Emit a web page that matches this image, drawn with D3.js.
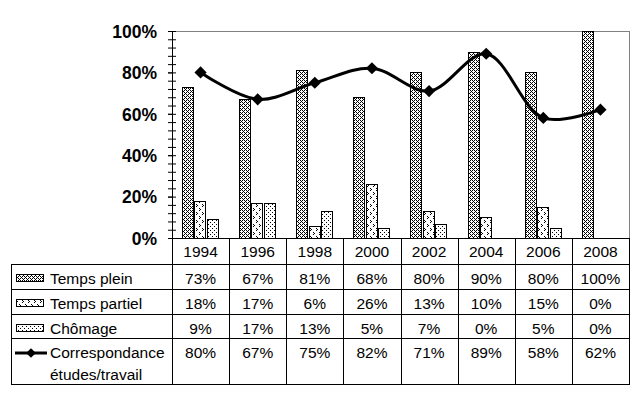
<!DOCTYPE html>
<html>
  <head>
    <script src="https://d3js.org/d3.v7.min.js"></script>
    <style>
      body { margin: 0; background: #fff; }
      text { font-family: Arial, "Liberation Sans", sans-serif; }
    </style>
  </head>
  <body>
    <div id="chart"></div>
  <script>
    var width = 639,
        height = 399;

    // data
    var years = ["1994", "1996", "1998", "2000", "2002", "2004", "2006", "2008"];
    var tempsPlein = [73, 67, 81, 68, 80, 90, 80, 100];
    var tempsPartiel = [18, 17, 6, 26, 13, 10, 15, 0];
    var chomage = [9, 17, 13, 5, 7, 0, 5, 0];
    var correspondance = [80, 67, 75, 82, 71, 89, 58, 62];
    var yTicks = [0, 20, 40, 60, 80, 100];

    var barSeries = [
      {name: "Temps plein", values: tempsPlein, fill: "url(#pPlein)"},
      {name: "Temps partiel", values: tempsPartiel, fill: "url(#pPartiel)"},
      {name: "Chômage", values: chomage, fill: "url(#pChomage)"}
    ];

    var plotLeft = 172, plotRight = 629, plotTop = 31, plotBottom = 238;
    var rowLines = [264, 289, 314, 338, 384];

    var svg = d3.select("#chart").append("svg")
        .attr("width", width)
        .attr("height", height);

    // patterns
    var defs = svg.append("defs");
    function pattern(id, w, h, pts) {
      var p = defs.append("pattern")
          .attr("id", id)
          .attr("patternUnits", "userSpaceOnUse")
          .attr("width", w).attr("height", h);
      p.append("rect").attr("width", w).attr("height", h).attr("fill", "#fff");
      pts.forEach(function(d) {
        p.append("rect").attr("x", d[0]).attr("y", d[1])
          .attr("width", 1).attr("height", 1).attr("fill", "#000");
      });
    }
    pattern("pPlein", 4, 4, [[0, 0], [2, 0], [0, 2], [2, 2], [1, 1], [3, 3]]);
    pattern("pPartiel", 6, 8, [[1, 0], [2, 1], [1, 2], [4, 4], [5, 5], [4, 6]]);
    pattern("pChomage", 4, 4, [[0, 0], [2, 2]]);

    var x = d3.scaleBand()
        .domain(years)
        .range([plotLeft, plotRight])
        .padding(0);

    var bw = x.bandwidth();
    var xs = d3.scaleBand()
        .domain(barSeries.map(function(s) { return s.name; }))
        .range([bw * 0.175, bw * 0.825])
        .padding(0);

    var y = d3.scaleLinear()
        .domain([0, 100])
        .range([plotBottom, plotTop]);

    // plot border (gray)
    svg.append("line")
        .attr("x1", plotLeft).attr("x2", plotRight)
        .attr("y1", y(100) + 0.5).attr("y2", y(100) + 0.5)
        .attr("stroke", "#808080");
    svg.append("line")
        .attr("x1", plotRight + 0.5).attr("x2", plotRight + 0.5)
        .attr("y1", y(100)).attr("y2", plotBottom)
        .attr("stroke", "#808080");

    // bars
    barSeries.forEach(function(s) {
      svg.append("g")
        .selectAll("rect")
        .data(s.values)
        .enter()
        .append("rect")
          .attr("x", function(d, i) { return Math.round(x(years[i]) + xs(s.name)) + 0.5; })
          .attr("y", function(d) { return Math.round(y(d)) + 0.5; })
          .attr("width", Math.round(xs.bandwidth()) - 1)
          .attr("height", function(d) { return Math.round(plotBottom - y(d)); })
          .attr("fill", s.fill)
          .attr("stroke", "#000")
          .attr("stroke-width", 1)
          .style("display", function(d) { return d > 0 ? null : "none"; });
    });

    // y axis, minor ticks crossing the axis
    var minor = d3.range(0, 101, 4);
    svg.append("g")
        .attr("transform", "translate(" + plotLeft + ",0)")
        .call(d3.axisLeft(y).tickValues(minor).tickSize(4).tickFormat(""))
        .call(function(g) { g.select(".domain").remove(); });
    svg.append("g")
        .attr("transform", "translate(" + plotLeft + ",0)")
        .call(d3.axisRight(y).tickValues(minor).tickSize(4).tickFormat(""))
        .call(function(g) { g.select(".domain").remove(); });
    var yAxis = svg.append("g")
        .attr("transform", "translate(" + plotLeft + ",0)")
        .call(d3.axisLeft(y).tickValues(yTicks).tickSize(4).tickPadding(11)
          .tickFormat(function(d) { return d + "%"; }));
    yAxis.select(".domain").attr("d", "M0.5," + plotTop + "V" + plotBottom);
    yAxis.selectAll("text")
        .style("font-family", "Arial, 'Liberation Sans', sans-serif")
        .style("font-size", "17.5px")
        .style("font-weight", "bold")
        .attr("dy", "0.36em");

    // x axis line
    svg.append("line")
        .attr("x1", plotLeft).attr("x2", plotRight)
        .attr("y1", plotBottom + 0.5).attr("y2", plotBottom + 0.5)
        .attr("stroke", "#000");

    // correspondance line
    var line = d3.line()
        .x(function(d, i) { return x(years[i]) + bw / 2; })
        .y(function(d) { return y(d); })
        .curve(d3.curveCatmullRom.alpha(0.5));

    svg.append("path")
        .datum(correspondance)
        .attr("d", line)
        .attr("fill", "none")
        .attr("stroke", "#000")
        .attr("stroke-width", 3);

    var diamond = d3.symbol().type(d3.symbolDiamond2).size(95);
    svg.append("g")
        .selectAll("path")
        .data(correspondance)
        .enter()
        .append("path")
          .attr("d", diamond)
          .attr("transform", function(d, i) {
            return "translate(" + (x(years[i]) + bw / 2) + "," + y(d) + ")";
          })
          .attr("fill", "#000");

    // data table
    var table = svg.append("g");
    // vertical lines
    table.selectAll("line.v")
        .data(years.concat(["end"]))
        .enter()
        .append("line")
          .attr("x1", function(d, i) { return i < years.length ? Math.round(x(d)) + 0.5 : plotRight + 0.5; })
          .attr("x2", function(d, i) { return i < years.length ? Math.round(x(d)) + 0.5 : plotRight + 0.5; })
          .attr("y1", plotBottom)
          .attr("y2", rowLines[rowLines.length - 1] + 0.5)
          .attr("stroke", "#000");
    table.append("line")
        .attr("x1", 11.5).attr("x2", 11.5)
        .attr("y1", rowLines[0]).attr("y2", rowLines[rowLines.length - 1] + 0.5)
        .attr("stroke", "#000");
    table.selectAll("line.h")
        .data(rowLines)
        .enter()
        .append("line")
          .attr("x1", 11).attr("x2", plotRight + 1)
          .attr("y1", function(d) { return d + 0.5; })
          .attr("y2", function(d) { return d + 0.5; })
          .attr("stroke", "#000");

    var fs = "15.5px";
    // header years
    table.selectAll("text.year")
        .data(years)
        .enter()
        .append("text")
          .attr("x", function(d) { return x(d) + bw / 2; })
          .attr("y", 257)
          .attr("text-anchor", "middle")
          .style("font-size", fs)
          .text(function(d) { return d; });

    var rows = [
      {label: ["Temps plein"], values: tempsPlein, key: "pPlein", base: 284},
      {label: ["Temps partiel"], values: tempsPartiel, key: "pPartiel", base: 309},
      {label: ["Chômage"], values: chomage, key: "pChomage", base: 334},
      {label: ["Correspondance", "études/travail"], values: correspondance, key: "line", base: 358}
    ];

    rows.forEach(function(r) {
      table.selectAll(null)
        .data(r.values)
        .enter()
        .append("text")
          .attr("x", function(d, i) { return x(years[i]) + bw / 2; })
          .attr("y", r.base)
          .attr("text-anchor", "middle")
          .style("font-size", fs)
          .text(function(d) { return d + "%"; });

      r.label.forEach(function(t, k) {
        table.append("text")
          .attr("x", 50)
          .attr("y", r.base + k * 22)
          .style("font-size", fs)
          .text(t);
      });

      if (r.key === "line") {
        table.append("line")
          .attr("x1", 15).attr("x2", 47)
          .attr("y1", r.base - 5).attr("y2", r.base - 5)
          .attr("stroke", "#000").attr("stroke-width", 3);
        table.append("path")
          .attr("d", d3.symbol().type(d3.symbolDiamond2).size(60))
          .attr("transform", "translate(31," + (r.base - 5) + ")")
          .attr("fill", "#000");
      } else {
        table.append("rect")
          .attr("x", 16.5).attr("y", r.base - 9.5)
          .attr("width", 27).attr("height", 7)
          .attr("fill", "url(#" + r.key + ")")
          .attr("stroke", "#000");
      }
    });
  </script>
  </body>
</html>
